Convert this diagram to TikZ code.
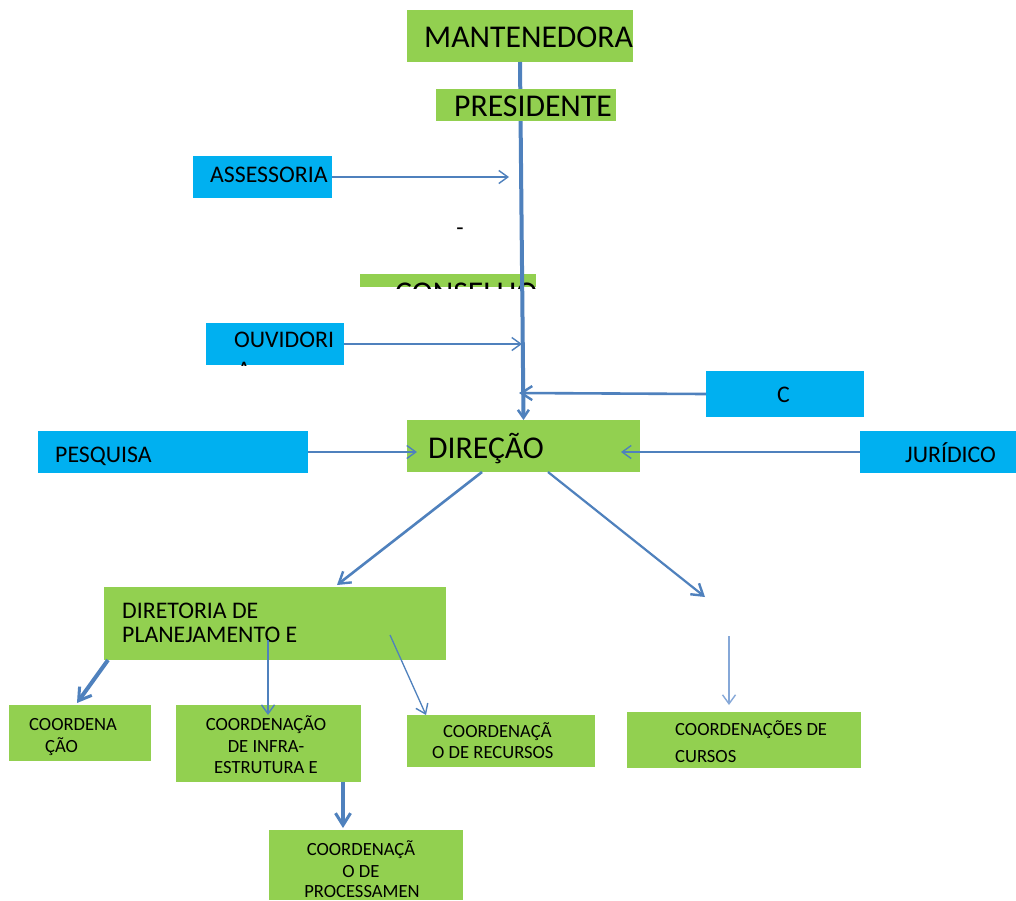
\documentclass[tikz,border=0pt]{standalone}
\usepackage{fontspec}
\setmainfont{Carlito}
\usetikzlibrary{arrows.meta}
\definecolor{gfill}{HTML}{92D050}
\definecolor{bfill}{HTML}{00B0F0}
\definecolor{lblue}{HTML}{4F81BD}
\definecolor{llight}{HTML}{86A8D8}
\begin{document}
\begin{tikzpicture}[x=1pt,y=-1pt,
 gbox/.style={fill=gfill, draw=none, anchor=north west, inner sep=0pt, outer sep=0pt},
 bbox/.style={fill=bfill, draw=none, anchor=north west, inner sep=0pt, outer sep=0pt},
 big/.style={font=\fontsize{31.7}{32}\selectfont, anchor=base west, inner sep=0pt},
 mid/.style={font=\fontsize{23.8}{24}\selectfont, anchor=base west, inner sep=0pt},
 sml/.style={font=\fontsize{18.6}{21}\selectfont, anchor=base west, inner sep=0pt},
 smlc/.style={font=\fontsize{18.6}{21}\selectfont, anchor=base, inner sep=0pt},
 thin/.style={draw=lblue, line width=1.3pt, -{Straight Barb[length=9pt,width=13pt,line width=1.4pt]}},
 med/.style={draw=lblue, line width=2.6pt, -{Straight Barb[length=11pt,width=14pt,line width=2.4pt]}},
 thick/.style={draw=lblue, line width=4pt, -{Straight Barb[length=12pt,width=15pt,line width=3pt]}},
 mainline/.style={draw=lblue, line width=4pt, -{Straight Barb[length=8pt,width=11pt,line width=2.5pt]}}
]
\useasboundingbox (0,0) rectangle (1016,900);
\fill[white] (0,0) rectangle (1016,900);

% boxes
\node[gbox, minimum width=226pt, minimum height=52pt] (mant) at (407,10) {};
\node[gbox, minimum width=233pt, minimum height=52pt] (dir) at (407,420) {};
\node[gbox, minimum width=176pt, minimum height=13pt] (cons) at (360,274) {};
\begin{scope}
\clip (360,274) rectangle (536,288);
\node[big] (constext) at (395,303) {CONSELHO};
\end{scope}

% main vertical line
\draw[mainline] (mant.south) -- (dir.north);

\node[gbox, minimum width=180pt, minimum height=32pt] (pres) at (436,89) {};
\node[bbox, minimum width=139pt, minimum height=42pt] (asse) at (193,156) {};
\node[bbox, minimum width=138pt, minimum height=42pt] (ouv) at (206,323) {};
\node[bbox, minimum width=158pt, minimum height=46pt] (cbox) at (706,371) {};
\node[bbox, minimum width=270pt, minimum height=42pt] (pesq) at (38,431) {};
\node[bbox, minimum width=156pt, minimum height=42pt] (jur) at (860,431) {};
\node[gbox, minimum width=342pt, minimum height=73pt] (dpe) at (104,587) {};
\node[gbox, minimum width=142pt, minimum height=56pt] (c1) at (9,705) {};
\node[gbox, minimum width=185pt, minimum height=77pt] (c2) at (176,705) {};
\node[gbox, minimum width=188pt, minimum height=52pt] (c3) at (407,715) {};
\node[gbox, minimum width=234pt, minimum height=56pt] (c4) at (627,712) {};
\node[gbox, minimum width=194pt, minimum height=70pt] (c5) at (269,830) {};

% texts
\node[big] (t-mant) at (424,47) {MANTENEDORA};
\node[big] (t-pres) at (454,116) {PRESIDENTE};
\node[mid] (t-asse) at (210,182) {ASSESSORIA};
\node[font=\fontsize{23.8}{24}\selectfont, inner sep=0pt] (dash) at (460,232) {-};
\node[mid] (t-ouv) at (234,347) {OUVIDORI};
\begin{scope}
\clip (206,323) rectangle (344,365);
\node[mid] (t-ouv2) at (237,377) {A};
\end{scope}
\node[mid] (t-c) at (777,402) {C};
\node[big] (t-dir) at (428,458) {DIREÇÃO};
\node[mid] (t-pesq) at (55,462) {PESQUISA};
\node[mid] (t-jur) at (905,462) {JURÍDICO};
\node[mid] (t-dpe1) at (122,618) {DIRETORIA DE};
\node[mid] (t-dpe2) at (122,642) {PLANEJAMENTO E};
\node[sml] (t-c1a) at (29,730) {COORDENA};
\node[sml] (t-c1b) at (45,752) {ÇÃO};
\node[smlc] (t-c2a) at (266,730) {COORDENAÇÃO};
\node[smlc] (t-c2b) at (266,752) {DE INFRA-};
\node[smlc] (t-c2c) at (266,773) {ESTRUTURA E};
\node[sml] (t-c3a) at (443,737) {COORDENAÇÃ};
\node[sml] (t-c3b) at (432,758) {O DE RECURSOS};
\node[sml] (t-c4a) at (675,735) {COORDENAÇÕES DE};
\node[sml] (t-c4b) at (675,762) {CURSOS};
\node[smlc] (t-c5a) at (361,855) {COORDENAÇÃ};
\node[smlc] (t-c5b) at (361,877) {O DE};
\node[smlc] (t-c5c) at (362,897) {PROCESSAMEN};

% free ends
\coordinate (asseEnd) at (509,177);
\coordinate (ouvEnd) at (522,344);
\coordinate (cEnd) at (519,393);
\coordinate (pesqEnd) at (417,452);
\coordinate (jurEnd) at (621,452);
\coordinate (ensTop) at (705,597);
\coordinate (ensBot) at (729,636);

% connectors
\draw[thin] (asse.east) -- (asseEnd);
\draw[thin] (ouv.east) -- (ouvEnd);
\draw[med] (cbox.west) -- (cEnd);
\draw[thin] (pesq.east) -- (pesqEnd);
\draw[thin] (jur.west) -- (jurEnd);
\draw[med] ([xshift=75pt]dir.south west) -- ([xshift=233pt,yshift=2pt]dpe.north west);
\draw[med, line width=2.2pt] ([xshift=141pt]dir.south west) -- (ensTop);
\draw[thin, draw=llight] (ensBot) -- ([xshift=102pt,yshift=7pt]c4.north west);
\draw[thick] ([xshift=4pt]dpe.south west) -- ([xshift=68pt,yshift=2pt]c1.north west);
\draw[thin] ([xshift=164pt,yshift=20pt]dpe.south west) -- ([xshift=92pt,yshift=-10pt]c2.north west);
\draw[thin] ([xshift=286pt,yshift=25pt]dpe.south west) -- ([xshift=19pt]c3.north west);
\draw[thick] ([xshift=167pt]c2.south west) -- ([xshift=74pt,yshift=2pt]c5.north west);
\end{tikzpicture}
\end{document}
